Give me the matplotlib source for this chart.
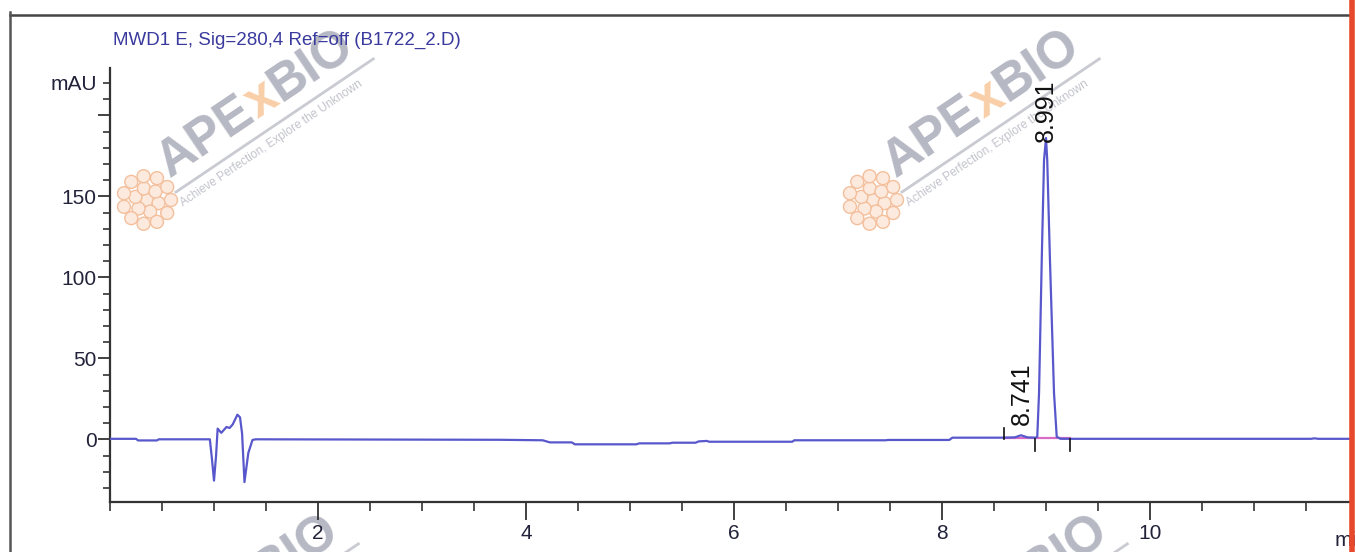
import numpy as np
import matplotlib
matplotlib.use('Agg')
import matplotlib.pyplot as plt
from matplotlib import font_manager
from matplotlib.font_manager import FontProperties
from matplotlib.lines import Line2D
from matplotlib.patches import Circle
from matplotlib.textpath import TextToPath
from matplotlib.ticker import MultipleLocator, FixedLocator

W, H, DPI = 1356, 552, 100

# chromatogram trace (min, mAU)
time_min = [0.00, 0.25, 0.27, 0.45, 0.47, 0.96, 0.98, 1.00, 1.02, 1.035,
            1.07, 1.12, 1.15, 1.18, 1.225, 1.25, 1.27, 1.293, 1.33, 1.37,
            1.40, 3.75, 4.16, 4.23, 4.44, 4.47, 5.06, 5.09, 5.38, 5.41,
            5.63, 5.66, 5.74, 5.76, 6.56, 6.58, 7.46, 7.48, 8.07, 8.10,
            8.56, 8.70, 8.76, 8.82, 8.90, 8.916, 8.933, 8.959, 8.981, 9.0,
            9.012, 9.038, 9.077, 9.103, 9.14, 11.55, 11.58, 11.62, 11.92]
signal_mau = [0.3, 0.3, -0.7, -0.7, 0.0, 0.0, -12.0, -25.5, -10.0, 6.6,
              4.0, 7.6, 7.0, 9.2, 15.2, 13.6, 3.6, -26.4, -8.4, -0.4,
              0.0, -0.3, -0.6, -1.9, -1.9, -3.1, -3.1, -2.5, -2.5, -2.1,
              -2.1, -1.3, -1.0, -1.5, -1.5, -0.6, -0.6, -0.4, -0.4, 1.0,
              1.0, 1.2, 2.5, 1.2, 1.0, 1.6, 28.6, 110.7, 172.4, 186.0,
              172.0, 110.7, 28.6, 1.6, 0.3, 0.3, 0.6, 0.3, 0.3]

peak_labels = ['8.741', '8.991']
peak_label_x = [8.766, 9.0]
peak_label_y = [8.9, 183.5]
baseline_marks = [8.60, 8.894, 9.23]
baseline_mark_dir = [1, -1, -1]
baseline_level = 0.5

x_major = [2, 4, 6, 8, 10]
y_major = [0, 50, 100, 150, 200]
y_major_labels = ['0', '50', '100', '150', '']

title = 'MWD1 E, Sig=280,4 Ref=off (B1722_2.D)'

names = {f.name for f in font_manager.fontManager.ttflist}
narrow = 'Liberation Sans Narrow' if 'Liberation Sans Narrow' in names else 'Liberation Sans'

trace_col = '#5858cc'
axis_col = '#333333'
label_col = '#22223a'

fig = plt.figure(figsize=(W / DPI, H / DPI), dpi=DPI)
ax = fig.add_axes([110 / W, 1 - 502 / H, (1350 - 110) / W, (502 - 68) / H])
ax.patch.set_alpha(0)

ax.plot(time_min, signal_mau, color=trace_col, lw=1.6, solid_joinstyle='round', zorder=3)

# integration baseline and event marks
ax.plot([baseline_marks[0], baseline_marks[-1]], [baseline_level] * 2,
        color='#d86cc4', lw=1.6, zorder=2)
for xm, d in zip(baseline_marks, baseline_mark_dir):
    ax.plot([xm, xm], [0, 7 * d], color='#111111', lw=1.2, zorder=4)

for s, x, y in zip(peak_labels, peak_label_x, peak_label_y):
    ax.text(x, y, s, rotation=90, ha='center', va='bottom', fontsize=18,
            family='Liberation Sans', color='#111111', zorder=5)

ax.set_xlim(0, 11.923)
ax.set_ylim(-38.7, 229.2)
ax.xaxis.set_major_locator(FixedLocator(x_major))
ax.xaxis.set_minor_locator(MultipleLocator(0.5))
ax.yaxis.set_major_locator(FixedLocator(y_major))
ax.yaxis.set_minor_locator(MultipleLocator(10))
ax.set_xticklabels([str(v) for v in x_major])
ax.set_yticklabels(y_major_labels)

for side in ['top', 'right']:
    ax.spines[side].set_visible(False)
for side in ['left', 'bottom']:
    ax.spines[side].set_color(axis_col)
    ax.spines[side].set_linewidth(1.6)

ax.tick_params(axis='x', which='major', length=13, width=1.3, color=axis_col,
               labelsize=15, labelcolor=label_col, pad=3)
ax.tick_params(axis='x', which='minor', length=6.5, width=1.2, color=axis_col)
ax.tick_params(axis='y', which='major', length=8.5, width=1.3, color=axis_col,
               labelsize=15, labelcolor=label_col, pad=1)
ax.tick_params(axis='y', which='minor', length=5, width=1.2, color=axis_col)
for lab in ax.get_xticklabels() + ax.get_yticklabels():
    lab.set_family(narrow)

fig.text(97 / W, 1 - 84 / H, 'mAU', ha='right', va='center', fontsize=15,
         family=narrow, color=label_col)
fig.text(1335 / W, 1 - 540 / H, 'min', ha='left', va='center', fontsize=15,
         family=narrow, color=label_col)
fig.text(113 / W, 1 - 45 / H, title, ha='left', va='baseline', fontsize=13.5,
         family=narrow, color='#3a3a9e')

# frame lines of the screenshot
fig.add_artist(Line2D([10 / W, 1350 / W], [1 - 15 / H] * 2, transform=fig.transFigure,
                      color='#444444', lw=1.8))
fig.add_artist(Line2D([10 / W, 10 / W], [0, 1 - 12 / H], transform=fig.transFigure,
                      color='#555555', lw=1.8))
fig.add_artist(Line2D([1352 / W, 1352 / W], [0, 1], transform=fig.transFigure,
                      color='#e8482c', lw=4.0, zorder=10))

# APExBIO watermarks
ttp = TextToPath()
wm_font = FontProperties(family='Liberation Sans', weight='bold', size=37)
tag_font = FontProperties(family='Liberation Sans', size=8.5)
ang = 34
ca, sa = np.cos(np.radians(ang)), np.sin(np.radians(ang))
gray = '#b6b8c4'


def watermark(x0, y0):
    pos = 0.0
    for s, c in [('APE', gray), ('x', '#f8cfa8'), ('BIO', gray)]:
        w = ttp.get_text_width_height_descent(s, wm_font, ismath=False)[0] * DPI / 72
        px, py = x0 + pos * ca, y0 - pos * sa
        fig.text(px / W, 1 - py / H, s, rotation=ang, rotation_mode='anchor',
                 ha='left', va='baseline', color=c, fontproperties=wm_font, zorder=-2)
        pos += w
    lx0, ly0 = x0 + 6, y0 + 14
    fig.add_artist(Line2D([lx0 / W, (lx0 + 238 * ca) / W],
                          [1 - ly0 / H, 1 - (ly0 - 238 * sa) / H],
                          transform=fig.transFigure, color='#c9cad2', lw=2, zorder=-2))
    fig.text((x0 + 13) / W, 1 - (y0 + 29) / H, 'Achieve Perfection, Explore the Unknown',
             rotation=ang, rotation_mode='anchor', ha='left', va='baseline',
             color='#c2c3cc', fontproperties=tag_font, zorder=-2)
    # flower logo
    cx, cy = x0 - 23, y0 + 22
    rings = [(0, 0)]
    for k in range(6):
        a = np.radians(60 * k + 15)
        rings.append((12 * np.cos(a), 12 * np.sin(a)))
    for k in range(11):
        a = np.radians(360 / 11 * k)
        rings.append((24 * np.cos(a), 24 * np.sin(a)))
    for dx, dy in rings:
        fig.add_artist(Circle(((cx + dx) / DPI, (H - cy - dy) / DPI), 6.5 / DPI,
                              transform=fig.dpi_scale_trans, facecolor='#fdeadf',
                              edgecolor='#f3bf9c', lw=1.0, zorder=-3))


for x0, y0 in [(170, 178), (896, 178), (155, 663), (924, 663)]:
    watermark(x0, y0)

fig.savefig('out.png', dpi=DPI)
